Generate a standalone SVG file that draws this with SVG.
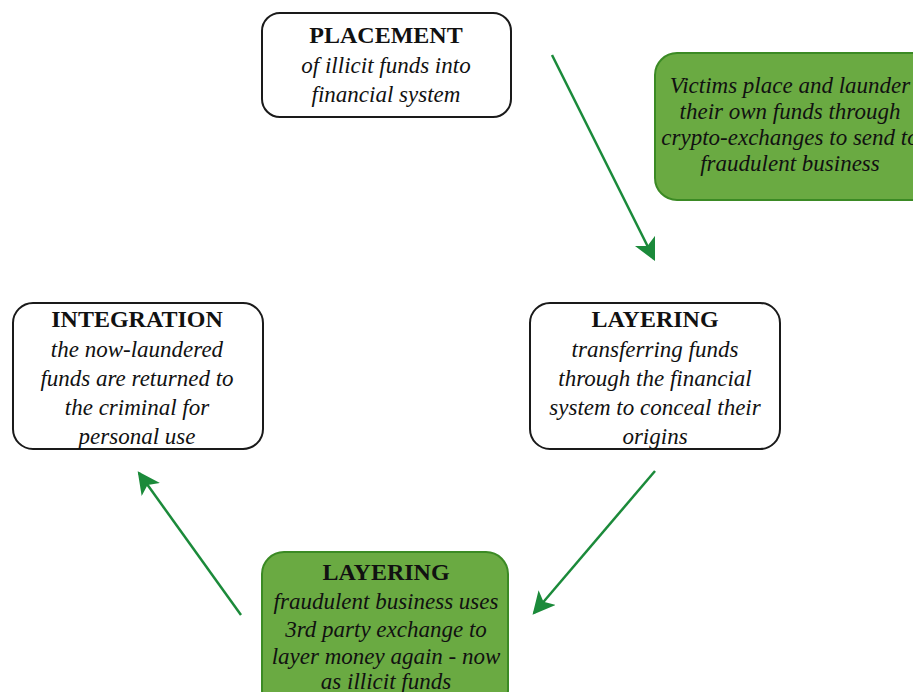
<svg xmlns="http://www.w3.org/2000/svg" width="913" height="692" viewBox="0 0 913 692">
<defs>
<style>
.box{fill:#ffffff;stroke:#1a1a1a;stroke-width:2}
.gbox{fill:#6aaa42;stroke:#3b8a24;stroke-width:2}
.t{font-family:"Liberation Serif","Times New Roman",serif;font-size:23px;fill:#111;text-anchor:middle}
.h{font-weight:bold;font-size:24px}
.i{font-style:italic}
.s{font-size:23px}
.arrow{stroke:#1b8a3a;stroke-width:2.5;fill:none;marker-end:url(#ah)}
</style>
<marker id="ah" viewBox="0 0 10 10" refX="9" refY="5" markerWidth="9" markerHeight="9" orient="auto" markerUnits="strokeWidth">
<path d="M0,0 L10,5 L0,10 L2.5,5 Z" fill="#1b8a3a"/>
</marker>
</defs>
<rect width="913" height="692" fill="#ffffff"/>
<g id="connectors">
<line class="arrow" x1="552" y1="55" x2="654" y2="259"/>
<line class="arrow" x1="655" y1="471" x2="534" y2="613"/>
<line class="arrow" x1="241" y1="615" x2="139" y2="473"/>
</g>
<g id="placement">
<rect class="box" x="262" y="13" width="249" height="104" rx="18"/>
<text class="t h" x="386" y="43">PLACEMENT</text>
<text class="t i" x="386" y="73">of illicit funds into</text>
<text class="t i" x="386" y="102">financial system</text>
</g>
<g id="victims">
<rect class="gbox" x="655" y="53" width="285" height="147" rx="22"/>
<text class="t i s" x="790" y="93">Victims place and launder</text>
<text class="t i s" x="790" y="119">their own funds through</text>
<text class="t i s" x="790" y="145">crypto-exchanges to send to</text>
<text class="t i s" x="790" y="171">fraudulent business</text>
</g>
<g id="integration">
<rect class="box" x="13" y="303" width="250" height="146" rx="20"/>
<text class="t h" x="137" y="327">INTEGRATION</text>
<text class="t i" x="137" y="357">the now-laundered</text>
<text class="t i" x="137" y="386">funds are returned to</text>
<text class="t i" x="137" y="415">the criminal for</text>
<text class="t i" x="137" y="444">personal use</text>
</g>
<g id="layering1">
<rect class="box" x="530" y="303" width="250" height="146" rx="20"/>
<text class="t h" x="655" y="327">LAYERING</text>
<text class="t i" x="655" y="357">transferring funds</text>
<text class="t i" x="655" y="386">through the financial</text>
<text class="t i" x="655" y="415">system to conceal their</text>
<text class="t i" x="655" y="444">origins</text>
</g>
<g id="layering2">
<rect class="gbox" x="262" y="552" width="246" height="160" rx="22"/>
<text class="t h" x="386" y="580">LAYERING</text>
<text class="t i" x="386" y="609">fraudulent business uses</text>
<text class="t i" x="386" y="637">3rd party exchange to</text>
<text class="t i" x="386" y="664">layer money again - now</text>
<text class="t i" x="386" y="689">as illicit funds</text>
</g>
</svg>
